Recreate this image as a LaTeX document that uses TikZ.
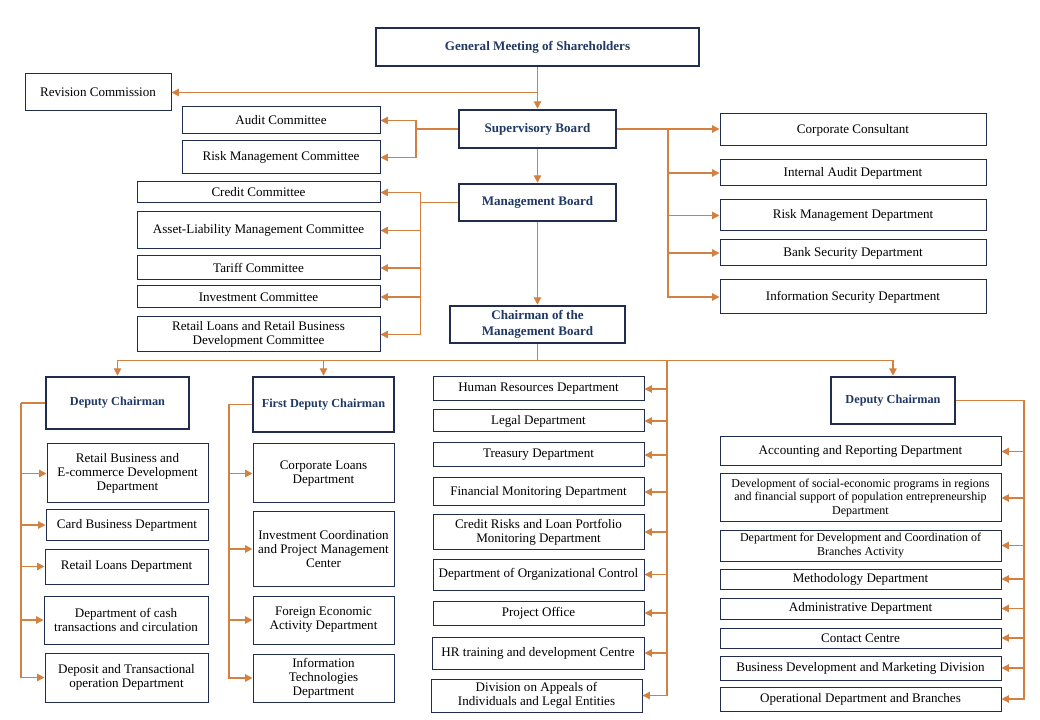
\documentclass[tikz,border=0pt]{standalone}
\usepackage{fontspec}
\setmainfont{Liberation Serif}
\usetikzlibrary{arrows.meta,positioning}

\definecolor{navy}{RGB}{31,56,100}
\definecolor{boxline}{RGB}{32,45,78}
\definecolor{linkorange}{RGB}{212,128,64}

\tikzset{
    boxsize/.style 2 args={minimum width=#1*0.75pt, minimum height=#2*0.75pt},
    box/.style={draw=boxline, line width=0.75pt, inner sep=1pt, align=center,
        font=\fontsize{9.8}{10.6}\selectfont},
    headbox/.style={box, line width=1.9pt, text=navy,
        font=\fontsize{9.8}{12}\selectfont\bfseries},
    smalltext/.style={font=\fontsize{9}{10.4}\selectfont},
    link/.style={draw=linkorange, line width=0.9pt,
        -{Triangle[length=5.5pt,width=5.5pt]}},
    bus/.style={draw=linkorange, line width=0.9pt}
}

\begin{document}
\begin{tikzpicture}[x=0.75pt,y=-0.75pt]
        \useasboundingbox (0,0) rectangle (1040,720);
        % top of the structure
        \node[headbox, boxsize={323}{38}] (gm) at (537.5,47) {General Meeting of Shareholders};
        \node[box, boxsize={146}{37}] (rev) at (98,92.5) {Revision Commission};
        \node[headbox, boxsize={157}{38}] (sup) at (537.5,129) {Supervisory Board};
        \node[headbox, boxsize={157}{37}] (mgmt) at (537.5,202.5) {Management Board};
        \node[headbox, boxsize={175}{37}] (chair) at (537.5,324.5) {Chairman of the\\Management Board};

        % committees of the supervisory board
        \node[box, boxsize={198}{27}] (audit) at (281,120.5) {Audit Committee};
        \node[box, boxsize={198}{33}] (riskc) at (281,157.5) {Risk Management Committee};

        % committees of the management board
        \node[box, boxsize={243}{21}] (credit) at (258.5,192.5) {Credit Committee};
        \node[box, boxsize={243}{37}] (alm) at (258.5,230.5) {Asset-Liability Management Committee};
        \node[box, boxsize={243}{24}] (tariff) at (258.5,268) {Tariff Committee};
        \node[box, boxsize={243}{22}] (invest) at (258.5,297) {Investment Committee};
        \node[box, boxsize={243}{35}] (retailc) at (258.5,334.5) {Retail Loans and Retail Business\\Development Committee};

        % units under the supervisory board
        \node[box, boxsize={266}{32}] (corp) at (853,130) {Corporate Consultant};
        \node[box, boxsize={266}{26}] (iad) at (853,173) {Internal Audit Department};
        \node[box, boxsize={266}{31}] (rmd) at (853,215.5) {Risk Management Department};
        \node[box, boxsize={266}{26}] (bsd) at (853,253) {Bank Security Department};
        \node[box, boxsize={266}{34}] (isd) at (853,297) {Information Security Department};

        % deputies
        \node[headbox, boxsize={143}{52}, font=\fontsize{9.2}{12}\selectfont\bfseries] (depl) at (117.5,403) {Deputy Chairman};
        \node[headbox, boxsize={141}{55}, font=\fontsize{9.2}{12}\selectfont\bfseries] (fdep) at (323.5,404.5) {First Deputy Chairman};
        \node[headbox, boxsize={124}{47}, font=\fontsize{9.2}{12}\selectfont\bfseries] (depr) at (893,400.5) {Deputy Chairman};

        % deputy chairman (left)
        \node[box, boxsize={161}{59}] (rbe) at (127.5,473.5) {Retail Business and\\E-commerce Development\\Department};
        \node[box, boxsize={162}{30}] (card) at (127,525) {Card Business Department};
        \node[box, boxsize={163}{35}] (rld) at (126.5,566.5) {Retail Loans Department};
        \node[box, boxsize={164}{48}] (cash) at (126,620) {Department of cash\\transactions and circulation};
        \node[box, boxsize={163}{49}] (dto) at (126.5,677.5) {Deposit and Transactional\\operation Department};

        % first deputy chairman
        \node[box, boxsize={141}{59}] (cld) at (323.5,473.5) {Corporate Loans\\Department};
        \node[box, boxsize={141}{74}] (icp) at (323.5,549) {Investment Coordination\\and Project Management\\Center};
        \node[box, boxsize={141}{48}] (fea) at (323.5,620) {Foreign Economic\\Activity Department};
        \node[box, boxsize={141}{48}] (itd) at (323.5,678) {Information\\Technologies\\Department};

        % chairman's own units
        \node[box, boxsize={211}{24}] (hrd) at (538.5,389) {Human Resources Department};
        \node[box, boxsize={211}{22}] (legal) at (538.5,421) {Legal Department};
        \node[box, boxsize={211}{24}] (treas) at (538.5,455) {Treasury Department};
        \node[box, boxsize={211}{28}] (finm) at (538.5,492) {Financial Monitoring Department};
        \node[box, boxsize={211}{34}] (crl) at (538.5,532) {Credit Risks and Loan Portfolio\\Monitoring Department};
        \node[box, boxsize={211}{31}] (doc) at (538.5,574.5) {Department of Organizational Control};
        \node[box, boxsize={211}{24}] (po) at (538.5,613) {Project Office};
        \node[box, boxsize={212}{32}] (hrt) at (538,653) {HR training and development Centre};
        \node[box, boxsize={211}{33}] (doa) at (536.5,695.5) {Division on Appeals of\\Individuals and Legal Entities};

        % deputy chairman (right)
        \node[box, boxsize={281}{29}] (acc) at (860.5,451.5) {Accounting and Reporting Department};
        \node[box, smalltext, boxsize={281}{48}] (dsep) at (860.5,498) {Development of social-economic programs in regions\\and financial support of population entrepreneurship\\Department};
        \node[box, smalltext, boxsize={281}{31}] (ddc) at (860.5,545.5) {Department for Development and Coordination of\\Branches Activity};
        \node[box, boxsize={281}{20}] (meth) at (860.5,579) {Methodology Department};
        \node[box, boxsize={281}{21}] (adm) at (860.5,608.5) {Administrative Department};
        \node[box, boxsize={281}{20}] (cc) at (860.5,638) {Contact Centre};
        \node[box, boxsize={281}{24}] (bdm) at (860.5,668) {Business Development and Marketing Division};
        \node[box, boxsize={281}{24}] (odb) at (860.5,699) {Operational Department and Branches};

        % main chain
        \draw[link] (gm) -- (sup);
        \draw[link] (gm.south |- rev.east) -- (rev.east);
        \draw[link] (sup) -- (mgmt);
        \draw[link] (mgmt) -- (chair);

        % branches of the boards
        \coordinate (sb) at (416,129);
        \draw[bus] (sup.west) -- (sb);
        \foreach \n in {audit,riskc} \draw[link] (sb) |- (\n.east);
        \coordinate (mb) at (420.5,202.5);
        \draw[bus] (mgmt.west) -- (mb);
        \foreach \n in {credit,alm,tariff,invest,retailc} \draw[link] (mb) |- (\n.east);
        \coordinate (rb) at (668,129);
        \draw[link] (sup.east) -- (sup.east -| corp.west);
        \foreach \n in {iad,rmd,bsd,isd} \draw[link] (rb) |- (\n.west);

        % bus under the chairman
        \coordinate (cb) at (537.5,360.5);
        \draw[bus] (chair.south) -- (cb);
        \draw[bus] (depl.north |- cb) -- (depr.north |- cb);
        \foreach \n in {depl,fdep,depr} \draw[link] (\n.north |- cb) -- (\n.north);
        \coordinate (mc) at (667,360.5);
        \foreach \n in {hrd,legal,treas,finm,crl,doc,po,hrt,doa} \draw[link] (mc) |- (\n.east);

        % deputies' units
        \coordinate (lc) at (21,403);
        \draw[bus] (depl.west) -- (lc);
        \foreach \n in {rbe,card,rld,cash,dto} \draw[link] (lc) |- (\n.west);
        \coordinate (fc) at (229,404.5);
        \draw[bus] (fdep.west) -- (fc);
        \foreach \n in {cld,icp,fea,itd} \draw[link] (fc) |- (\n.west);
        \coordinate (rc) at (1024,400.5);
        \draw[bus] (depr.east) -- (rc);
        \foreach \n in {acc,dsep,ddc,meth,adm,cc,bdm,odb} \draw[link] (rc) |- (\n.east);
\end{tikzpicture}
\end{document}
